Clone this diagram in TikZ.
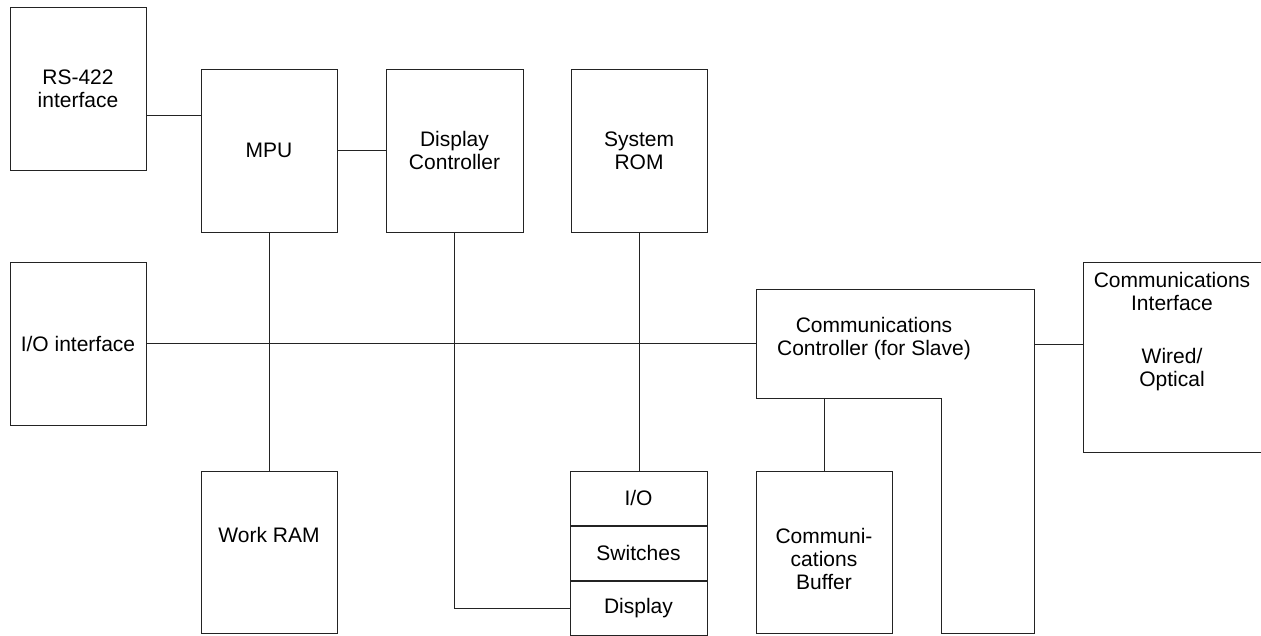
\documentclass[tikz,border=0pt]{standalone}
\usepackage{fontspec}
\setmainfont{Liberation Sans}
\usepackage{tikz}
\usetikzlibrary{positioning}
\usepackage{xcolor}
\definecolor{ink}{RGB}{35,35,35}

\begin{document}
\begin{tikzpicture}[x=1pt, y=-1pt, line width=1pt,
  font=\fontsize{21}{23}\selectfont,
  block/.style={draw=ink, rectangle, inner sep=0pt, align=center,
    minimum width=136pt, minimum height=163pt},
  slot/.style={block, minimum width=137pt, minimum height=54pt},
  caption/.style={align=center, inner sep=0pt},
  wire/.style={draw=ink}]
  \useasboundingbox (0,0) rectangle (1261,635);

  \node[block] (rs) at (78,88.5) {RS-422\\interface};
  \node[block] (mpu) at (269,150.5) {MPU};
  \node[block, minimum width=137pt] (dc) at (454.5,150.5) {Display\\Controller};
  \node[block] (rom) at (639,150.5) {System\\ROM};
  \node[block] (ioif) at (78,343.5) {I/O interface};

  \node[block, minimum height=162pt] (ram) at (269,552) {};
  \node[caption] (ramtext) at (269,535) {Work RAM};

  \node[slot] (io) at (638.5,498) {I/O};
  \node[slot, below=0pt of io] (sw) {Switches};
  \node[slot, below=0pt of sw] (disp) {Display};

  \node[block, minimum height=162pt] (buf) at (824,552) {};
  \node[caption] (buftext) at (824,559) {Communi-\\cations\\Buffer};

  \draw[ink] (756,289) coordinate (ccnw) -- (1034,289) coordinate (ccne)
    -- (1034,633) -- (941,633) -- (941,398) -- (756,398) coordinate (ccsw) -- cycle;
  \node[caption] (cc) at (874,339) {Communications\\Controller (for Slave)};
  \coordinate (ccport) at (1034,344);

  \node[block, minimum width=180pt, minimum height=190pt] (ci) at (1173,357) {};
  \node[caption] (citext) at (1172,332) {Communications\\Interface\\[30pt]Wired/\\Optical};

  \draw[wire] ([yshift=-26.5pt]rs.east) coordinate (rsport) -- (rsport -| mpu.west);
  \draw[wire] (mpu) -- (dc);
  \draw[wire] (mpu) -- (ram);
  \draw[wire] (ioif.east) -- (ioif.east -| ccnw);
  \draw[wire] (dc.south) |- (disp.west);
  \draw[wire] (rom.south) -- (rom.south |- io.north);
  \draw[wire] (ccsw -| buf.north) -- (buf.north);
  \draw[wire] (ccport) -- (ccport -| ci.west);
\end{tikzpicture}
\end{document}
